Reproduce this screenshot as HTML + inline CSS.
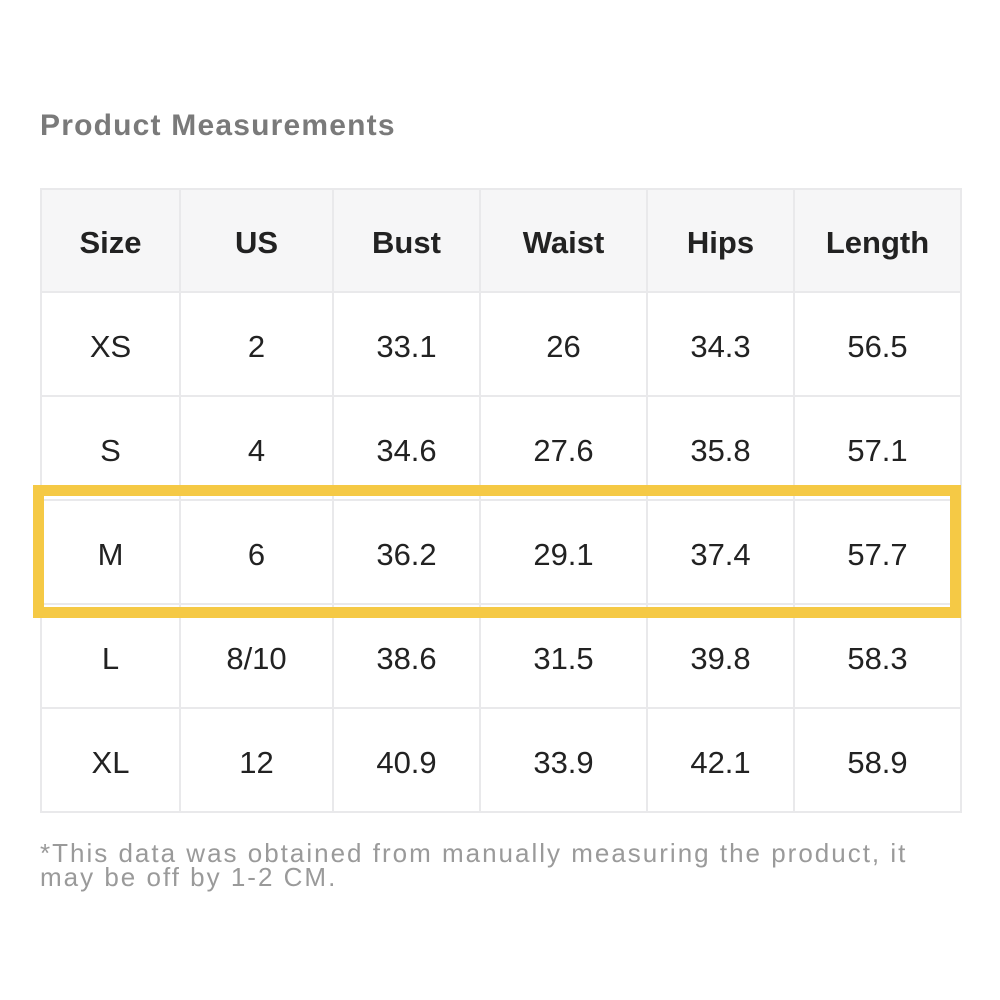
<!DOCTYPE html>
<html><head><style>
body{margin:0;width:1000px;height:1000px;background:#fff;position:relative;overflow:hidden;font-family:"Liberation Sans","DejaVu Sans",sans-serif}
.t{position:absolute;left:40px;top:188px;border-collapse:collapse}
.t td{border:2px solid #e9e9eb;text-align:center;font-size:31px;color:#222;padding:6px 0 0 0;height:96px;box-sizing:content-box}
.t tr:first-child td{background:#f6f6f7;font-weight:bold;font-size:31px;padding-top:4px;height:97px}
.title{position:absolute;left:40px;top:109px;font-size:30px;font-weight:bold;color:#7a7a7a;letter-spacing:1.2px}
.note{position:absolute;left:40px;top:841px;font-size:26px;color:#9a9a9a;line-height:24px;width:940px;letter-spacing:2px}
.hl{position:absolute;left:33px;top:485px;width:906px;height:111px;border:11px solid #f5c945}
</style></head><body>
<div class="title">Product Measurements</div>
<table class="t">
<colgroup><col style="width:139px"><col style="width:153px"><col style="width:147px"><col style="width:167px"><col style="width:147px"><col style="width:167px"></colgroup>
<tr><td>Size</td><td>US</td><td>Bust</td><td>Waist</td><td>Hips</td><td>Length</td></tr>
<tr><td>XS</td><td>2</td><td>33.1</td><td>26</td><td>34.3</td><td>56.5</td></tr>
<tr><td>S</td><td>4</td><td>34.6</td><td>27.6</td><td>35.8</td><td>57.1</td></tr>
<tr><td>M</td><td>6</td><td>36.2</td><td>29.1</td><td>37.4</td><td>57.7</td></tr>
<tr><td>L</td><td>8/10</td><td>38.6</td><td>31.5</td><td>39.8</td><td>58.3</td></tr>
<tr><td>XL</td><td>12</td><td>40.9</td><td>33.9</td><td>42.1</td><td>58.9</td></tr>
</table>
<div class="hl"></div>
<div class="note">*This data was obtained from manually measuring the product, it<br>may be off by 1-2 CM.</div>
</body></html>
